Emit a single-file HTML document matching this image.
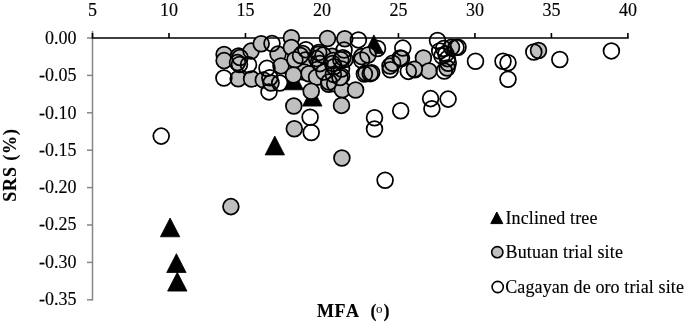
<!DOCTYPE html>
<html><head><meta charset="utf-8"><style>
html,body{margin:0;padding:0;background:#fff;width:685px;height:323px;overflow:hidden}
svg{display:block;will-change:transform}
text{font-family:"Liberation Serif",serif;fill:#000;font-kerning:none;stroke:#000;stroke-width:0.15px}
</style></head><body>
<svg width="685" height="323" viewBox="0 0 685 323">
<g stroke="#868686" stroke-width="1.5" fill="none">
<line x1="92.5" y1="31" x2="92.5" y2="300.55"/>
<line x1="87" y1="38.00" x2="92.5" y2="38.00"/>
<line x1="87" y1="75.40" x2="92.5" y2="75.40"/>
<line x1="87" y1="112.80" x2="92.5" y2="112.80"/>
<line x1="87" y1="150.20" x2="92.5" y2="150.20"/>
<line x1="87" y1="187.60" x2="92.5" y2="187.60"/>
<line x1="87" y1="225.00" x2="92.5" y2="225.00"/>
<line x1="87" y1="262.40" x2="92.5" y2="262.40"/>
<line x1="87" y1="299.80" x2="92.5" y2="299.80"/>
</g>
<g stroke="#000" stroke-width="1.6" fill="none">
<line x1="91.75" y1="38.0" x2="628.69" y2="38.0"/>
<line x1="92.50" y1="38.0" x2="92.50" y2="33"/>
<line x1="168.99" y1="38.0" x2="168.99" y2="33"/>
<line x1="245.47" y1="38.0" x2="245.47" y2="33"/>
<line x1="321.96" y1="38.0" x2="321.96" y2="33"/>
<line x1="398.44" y1="38.0" x2="398.44" y2="33"/>
<line x1="474.93" y1="38.0" x2="474.93" y2="33"/>
<line x1="551.41" y1="38.0" x2="551.41" y2="33"/>
<line x1="627.89" y1="38.0" x2="627.89" y2="33"/>
</g>
<g font-size="18" text-anchor="middle">
<text x="92.50" y="15.5">5</text>
<text x="168.99" y="15.5">10</text>
<text x="245.47" y="15.5">15</text>
<text x="321.96" y="15.5">20</text>
<text x="398.44" y="15.5">25</text>
<text x="474.93" y="15.5">30</text>
<text x="551.41" y="15.5">35</text>
<text x="627.89" y="15.5">40</text>
</g>
<g font-size="18" text-anchor="end">
<text x="76.5" y="44.25">0.00</text>
<text x="76.5" y="81.48">-0.05</text>
<text x="76.5" y="118.71">-0.10</text>
<text x="76.5" y="155.94">-0.15</text>
<text x="76.5" y="193.17">-0.20</text>
<text x="76.5" y="230.40">-0.25</text>
<text x="76.5" y="267.63">-0.30</text>
<text x="76.5" y="304.86">-0.35</text>
</g>
<g font-size="18" font-weight="bold"><text x="317" y="317" textLength="42" lengthAdjust="spacing">MFA</text><text x="370.6" y="317">(</text><text x="383.4" y="317">)</text></g><text x="375.9" y="313" font-size="13" style="stroke:none">o</text>
<text transform="translate(15.6,201.8) rotate(-90)" font-size="18" font-weight="bold" textLength="72.8" lengthAdjust="spacing">SRS (%)</text>
<g fill="#000" stroke="#000" stroke-width="0.8" stroke-linejoin="round">
<path d="M160.4 236.8L170.1 218.0L179.8 236.8Z"/>
<path d="M166.7 272.5L176.4 253.7L186.1 272.5Z"/>
<path d="M167.6 291.1L177.3 272.3L187.0 291.1Z"/>
<path d="M265.1 154.9L274.8 136.1L284.5 154.9Z"/>
<path d="M364.2 53.7L373.9 34.9L383.6 53.7Z"/>
<path d="M302.6 106.1L312.3 87.3L322.0 106.1Z"/>
<path d="M284.0 89.8L293.7 71.0L303.4 89.8Z"/>
</g>
<g stroke="#000" stroke-width="1.75">
<circle cx="230.9" cy="206.6" r="7.9" fill="#bfbfbf"/>
<circle cx="341.9" cy="158.0" r="7.9" fill="#bfbfbf"/>
<circle cx="224.1" cy="54.5" r="7.9" fill="#bfbfbf"/>
<circle cx="224.1" cy="60.6" r="7.9" fill="#bfbfbf"/>
<circle cx="238.6" cy="56.0" r="7.9" fill="#bfbfbf"/>
<circle cx="237.5" cy="62.6" r="7.9" fill="#bfbfbf"/>
<circle cx="251.1" cy="51.1" r="7.9" fill="#bfbfbf"/>
<circle cx="261.2" cy="43.8" r="7.9" fill="#bfbfbf"/>
<circle cx="238.2" cy="78.8" r="7.9" fill="#bfbfbf"/>
<circle cx="251.6" cy="79.0" r="7.9" fill="#bfbfbf"/>
<circle cx="263.3" cy="79.9" r="7.9" fill="#bfbfbf"/>
<circle cx="271.0" cy="83.0" r="7.9" fill="#bfbfbf"/>
<circle cx="278.0" cy="54.1" r="7.9" fill="#bfbfbf"/>
<circle cx="291.4" cy="37.8" r="7.9" fill="#bfbfbf"/>
<circle cx="291.4" cy="47.4" r="7.9" fill="#bfbfbf"/>
<circle cx="302.6" cy="53.5" r="7.9" fill="#bfbfbf"/>
<circle cx="305.4" cy="59.9" r="7.9" fill="#bfbfbf"/>
<circle cx="327.5" cy="38.5" r="7.9" fill="#bfbfbf"/>
<circle cx="332.2" cy="56.3" r="7.9" fill="#bfbfbf"/>
<circle cx="318.4" cy="54.3" r="7.9" fill="#bfbfbf"/>
<circle cx="318.4" cy="62.6" r="7.9" fill="#bfbfbf"/>
<circle cx="317.0" cy="69.6" r="7.9" fill="#bfbfbf"/>
<circle cx="304.0" cy="72.0" r="7.9" fill="#bfbfbf"/>
<circle cx="308.9" cy="73.8" r="7.9" fill="#bfbfbf"/>
<circle cx="316.6" cy="77.3" r="7.9" fill="#bfbfbf"/>
<circle cx="281.0" cy="65.9" r="7.9" fill="#bfbfbf"/>
<circle cx="294.9" cy="59.7" r="7.9" fill="#bfbfbf"/>
<circle cx="293.5" cy="75.0" r="7.9" fill="#bfbfbf"/>
<circle cx="328.7" cy="84.2" r="7.9" fill="#bfbfbf"/>
<circle cx="334.7" cy="83.8" r="7.9" fill="#bfbfbf"/>
<circle cx="341.6" cy="76.2" r="7.9" fill="#bfbfbf"/>
<circle cx="342.3" cy="89.8" r="7.9" fill="#bfbfbf"/>
<circle cx="324.0" cy="72.0" r="7.9" fill="#bfbfbf"/>
<circle cx="345.0" cy="59.5" r="7.9" fill="#bfbfbf"/>
<circle cx="344.8" cy="38.8" r="7.9" fill="#bfbfbf"/>
<circle cx="361.6" cy="56.6" r="7.9" fill="#bfbfbf"/>
<circle cx="323.1" cy="55.1" r="7.9" fill="#bfbfbf"/>
<circle cx="333.2" cy="60.5" r="7.9" fill="#bfbfbf"/>
<circle cx="340.0" cy="77.5" r="7.9" fill="#bfbfbf"/>
<circle cx="340.8" cy="59.7" r="7.9" fill="#bfbfbf"/>
<circle cx="366.0" cy="73.0" r="7.9" fill="#bfbfbf"/>
<circle cx="371.7" cy="72.8" r="7.9" fill="#bfbfbf"/>
<circle cx="368.0" cy="55.0" r="7.9" fill="#bfbfbf"/>
<circle cx="293.8" cy="106.0" r="7.9" fill="#bfbfbf"/>
<circle cx="311.2" cy="91.3" r="7.9" fill="#bfbfbf"/>
<circle cx="294.3" cy="128.8" r="7.9" fill="#bfbfbf"/>
<circle cx="341.5" cy="105.4" r="7.9" fill="#bfbfbf"/>
<circle cx="355.6" cy="90.0" r="7.9" fill="#bfbfbf"/>
<circle cx="390.0" cy="66.0" r="7.9" fill="#bfbfbf"/>
<circle cx="401.5" cy="58.5" r="7.9" fill="#bfbfbf"/>
<circle cx="414.9" cy="69.8" r="7.9" fill="#bfbfbf"/>
<circle cx="423.4" cy="58.0" r="7.9" fill="#bfbfbf"/>
<circle cx="428.9" cy="70.9" r="7.9" fill="#bfbfbf"/>
<circle cx="414.3" cy="69.2" r="7.9" fill="#bfbfbf"/>
<circle cx="451.5" cy="47.3" r="7.9" fill="#bfbfbf"/>
<circle cx="447.1" cy="68.0" r="7.9" fill="#bfbfbf"/>
<circle cx="538.5" cy="50.5" r="7.9" fill="#bfbfbf"/>
<circle cx="161.2" cy="136.1" r="7.9" fill="none"/>
<circle cx="385.1" cy="180.3" r="7.9" fill="none"/>
<circle cx="223.9" cy="78.0" r="7.9" fill="none"/>
<circle cx="248.5" cy="64.8" r="7.9" fill="none"/>
<circle cx="272.0" cy="43.5" r="7.9" fill="none"/>
<circle cx="267.0" cy="68.2" r="7.9" fill="none"/>
<circle cx="269.0" cy="91.9" r="7.9" fill="none"/>
<circle cx="269.8" cy="77.7" r="7.9" fill="none"/>
<circle cx="305.9" cy="49.8" r="7.9" fill="none"/>
<circle cx="300.5" cy="55.6" r="7.9" fill="none"/>
<circle cx="318.7" cy="52.5" r="7.9" fill="none"/>
<circle cx="344.1" cy="50.0" r="7.9" fill="none"/>
<circle cx="358.4" cy="39.9" r="7.9" fill="none"/>
<circle cx="342.9" cy="57.7" r="7.9" fill="none"/>
<circle cx="332.6" cy="63.4" r="7.9" fill="none"/>
<circle cx="334.0" cy="66.8" r="7.9" fill="none"/>
<circle cx="364.4" cy="74.0" r="7.9" fill="none"/>
<circle cx="370.2" cy="73.6" r="7.9" fill="none"/>
<circle cx="361.6" cy="60.0" r="7.9" fill="none"/>
<circle cx="377.5" cy="48.5" r="7.9" fill="none"/>
<circle cx="402.8" cy="48.1" r="7.9" fill="none"/>
<circle cx="400.2" cy="57.9" r="7.9" fill="none"/>
<circle cx="390.3" cy="69.7" r="7.9" fill="none"/>
<circle cx="392.6" cy="63.2" r="7.9" fill="none"/>
<circle cx="408.3" cy="71.4" r="7.9" fill="none"/>
<circle cx="310.1" cy="117.3" r="7.9" fill="none"/>
<circle cx="311.2" cy="132.5" r="7.9" fill="none"/>
<circle cx="374.5" cy="117.8" r="7.9" fill="none"/>
<circle cx="374.5" cy="129.0" r="7.9" fill="none"/>
<circle cx="400.7" cy="110.8" r="7.9" fill="none"/>
<circle cx="430.6" cy="98.6" r="7.9" fill="none"/>
<circle cx="431.9" cy="108.8" r="7.9" fill="none"/>
<circle cx="448.1" cy="99.1" r="7.9" fill="none"/>
<circle cx="437.5" cy="40.5" r="7.9" fill="none"/>
<circle cx="439.7" cy="51.0" r="7.9" fill="none"/>
<circle cx="443.6" cy="48.6" r="7.9" fill="none"/>
<circle cx="445.9" cy="54.0" r="7.9" fill="none"/>
<circle cx="447.4" cy="58.6" r="7.9" fill="none"/>
<circle cx="448.2" cy="63.3" r="7.9" fill="none"/>
<circle cx="444.3" cy="71.0" r="7.9" fill="none"/>
<circle cx="442.0" cy="56.0" r="7.9" fill="none"/>
<circle cx="456.0" cy="47.4" r="7.9" fill="none"/>
<circle cx="458.0" cy="47.2" r="7.9" fill="none"/>
<circle cx="475.5" cy="61.2" r="7.9" fill="none"/>
<circle cx="503.0" cy="61.2" r="7.9" fill="none"/>
<circle cx="508.0" cy="62.7" r="7.9" fill="none"/>
<circle cx="508.0" cy="79.2" r="7.9" fill="none"/>
<circle cx="533.8" cy="52.0" r="7.9" fill="none"/>
<circle cx="559.8" cy="59.5" r="7.9" fill="none"/>
<circle cx="611.4" cy="50.9" r="7.9" fill="none"/>
<circle cx="279.7" cy="83.0" r="7.9" fill="none"/>
<circle cx="240.0" cy="57.5" r="7.9" fill="none"/>
<circle cx="239.5" cy="64.5" r="7.9" fill="none"/>
<circle cx="329.0" cy="82.0" r="7.9" fill="none"/>
<circle cx="333.3" cy="74.4" r="7.9" fill="none"/>
<circle cx="341.5" cy="69.0" r="7.9" fill="none"/>
<circle cx="316.6" cy="58.6" r="7.9" fill="none"/>
<circle cx="319.9" cy="63.6" r="7.9" fill="none"/>
</g>
<path d="M490.8 223.6L496.8 212L502.8 223.6Z" fill="#000" stroke="#000" stroke-width="1" stroke-linejoin="round"/>
<circle cx="497.3" cy="252.2" r="5.6" fill="#bfbfbf" stroke="#000" stroke-width="1.6"/>
<circle cx="497.7" cy="287" r="5.6" fill="none" stroke="#000" stroke-width="1.6"/>
<g font-size="18">
<text x="505.5" y="223.8" textLength="91.9" lengthAdjust="spacing">Inclined tree</text>
<text x="505.5" y="258.4" textLength="117.4" lengthAdjust="spacing">Butuan trial site</text>
<text x="505.2" y="293.2" textLength="178.7" lengthAdjust="spacing">Cagayan de oro trial site</text>
</g>
</svg></body></html>
